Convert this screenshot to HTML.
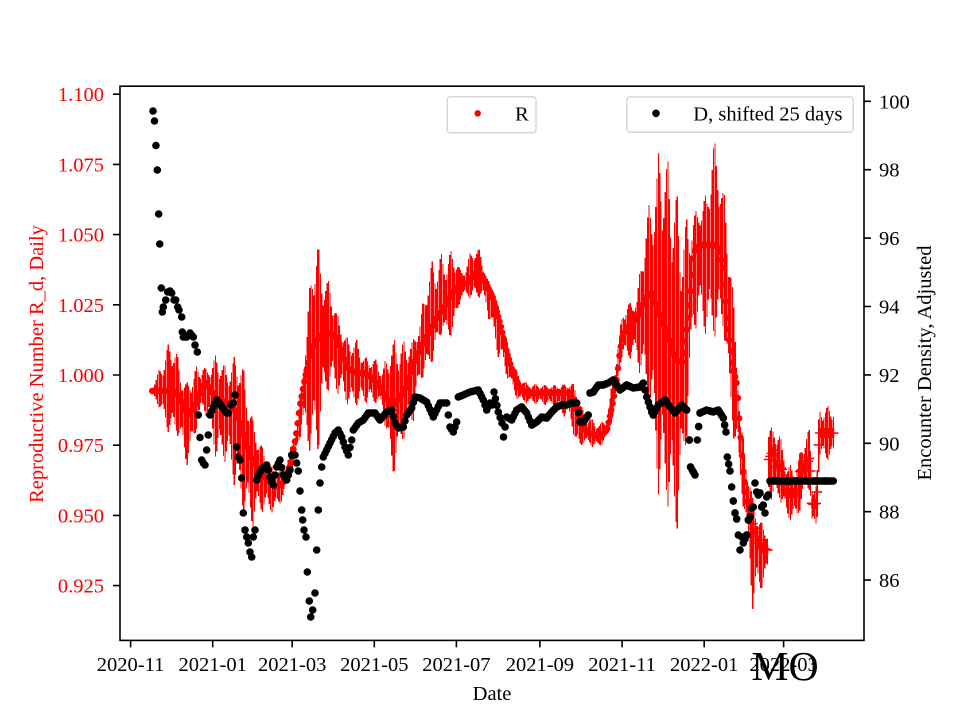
<!DOCTYPE html>
<html><head><meta charset="utf-8">
<style>
html,body{margin:0;padding:0;background:#fff;}
svg{display:block;}
text{font-family:"Liberation Serif","Times New Roman",serif;font-size:20.5px;}
</style></head><body>
<svg id="s" width="960" height="720" viewBox="0 0 960 720" xmlns="http://www.w3.org/2000/svg">
<rect width="960" height="720" fill="#fff"/>
<g id="red"><path id="rbars" stroke="#ff0000" stroke-width="1.2" fill="none" shape-rendering="crispEdges"/><path id="rdots" fill="#ff0000"/><path id="rplus" stroke="#ff0000" stroke-width="1.5" fill="none"/></g>
<g id="leg1">
<rect x="447.3" y="96.7" width="88.7" height="36" rx="3" ry="3" fill="#fff" fill-opacity="0.8" stroke="#d6d6d6" stroke-width="1.5"/>
<circle cx="477.7" cy="113.3" r="3.2" fill="#ff0000"/>
<text x="515" y="120.5">R</text>
</g>
<g id="blk"><path id="bdots" fill="#000"/></g>
<g id="leg2">
<rect x="626.7" y="97" width="226.6" height="35.3" rx="3" ry="3" fill="#fff" fill-opacity="0.8" stroke="#d6d6d6" stroke-width="1.5"/>
<circle cx="656" cy="113.3" r="3.8" fill="#000"/>
<text x="693.3" y="120.5">D, shifted 25 days</text>
</g>
<g id="axes" stroke="#000">
<rect x="120" y="86.2" width="744" height="554.2" fill="none" stroke-width="1.6"/>
<path stroke-width="1.6" d="M113 94.2H120M113 164.4H120M113 234.6H120M113 304.8H120M113 375H120M113 445.2H120M113 515.4H120M113 585.6H120
M864 101.3H871M864 169.7H871M864 238.1H871M864 306.5H871M864 374.9H871M864 443.3H871M864 511.7H871M864 580.1H871
M130.6 640.4V647.4M212.7 640.4V647.4M292.2 640.4V647.4M374.3 640.4V647.4M456.4 640.4V647.4M539.9 640.4V647.4M622.1 640.4V647.4M704.2 640.4V647.4M783.6 640.4V647.4"/>
</g>
<g fill="#ff0000" text-anchor="end">
<text x="104" y="101.2">1.100</text>
<text x="104" y="171.4">1.075</text>
<text x="104" y="241.6">1.050</text>
<text x="104" y="311.8">1.025</text>
<text x="104" y="382">1.000</text>
<text x="104" y="452.2">0.975</text>
<text x="104" y="522.4">0.950</text>
<text x="104" y="592.6">0.925</text>
</g>
<g fill="#000" text-anchor="start">
<text x="879" y="108.3">100</text>
<text x="879" y="176.7">98</text>
<text x="879" y="245.1">96</text>
<text x="879" y="313.5">94</text>
<text x="879" y="381.9">92</text>
<text x="879" y="450.3">90</text>
<text x="879" y="518.7">88</text>
<text x="879" y="587.1">86</text>
</g>
<g fill="#000" text-anchor="middle">
<text x="130.6" y="671">2020-11</text>
<text x="212.7" y="671">2021-01</text>
<text x="292.2" y="671">2021-03</text>
<text x="374.3" y="671">2021-05</text>
<text x="456.4" y="671">2021-07</text>
<text x="539.9" y="671">2021-09</text>
<text x="622.1" y="671">2021-11</text>
<text x="704.2" y="671">2022-01</text>
<text x="783.6" y="671">2022-03</text>
<text x="492" y="700">Date</text>
<text transform="translate(43,364) rotate(-90)" fill="#ff0000">Reproductive Number R_d, Daily</text>
<text transform="translate(931,363) rotate(-90)">Encounter Density, Adjusted</text>
<text x="785" y="680" style="font-size:41.7px">MO</text>
</g>
</svg>
<script>
(function(){
var X0=130.6, PX=1.3465;
var C=[[151.7,391],[160,391],[170,391],[176,392],[181,400],[188,415],[195,405],[200,392],[205,382],[210,388],[216,398],[225,402],[232,405],[238,418],[244,435],[250,455],[256,465],[262,474],[270,483],[277,487],[283,483],[288,472],[292,458],[296,435],[300,405],[305,378],[310,355],[315,343],[320,336],[330,333],[336,338],[342,352],[348,368],[356,373],[364,373],[372,378],[380,387],[388,400],[393,405],[400,397],[407,385],[413,365],[420,350],[426,338],[437,317],[447,303],[453,292],[460,285],[467,283],[475,273],[481,275],[487,285],[493,298],[500,323],[507,353],[513,373],[520,388],[527,393],[570,393],[575,405],[580,420],[587,432],[600,437],[607,430],[613,402],[617,378],[620,350],[623,335],[630,325],[637,318],[645,298],[652,293],[660,315],[667,333],[675,360],[683,362],[687,327],[690,300],[694,252],[700,245],[715,245],[720,250],[723,267],[727,317],[733,367],[737,385],[740,430],[743,470],[747,500],[753,525],[757,538],[762,548],[767.6,550],[768.6,460],[773,450],[777,467],[780,467],[783,470],[786,493],[797,493],[800,470],[803,470],[807,463],[810,457],[812,505],[817,503],[819,433],[834,433]];
var E=[[151.7,388,393],[160,367,410],[167,347,430],[172,337,437],[177,353,433],[182,380,455],[187,383,465],[190,375,460],[197,366,427],[203,365,410],[207,370,418],[210,365,423],[217,353,466],[222,360,458],[227,370,465],[233,360,480],[238,348,500],[243,367,513],[247,387,520],[253,420,527],[260,440,513],[267,460,510],[273,468,513],[280,468,505],[287,460,487],[293,440,470],[297,427,450],[302,380,430],[307,327,443],[313,240,460],[318,243,457],[323,273,403],[330,283,387],[337,313,393],[343,333,400],[350,340,407],[357,340,405],[363,357,403],[377,360,403],[383,370,410],[390,340,463],[393,340,477],[400,340,450],[407,343,430],[413,340,423],[420,320,383],[424,296,375],[427,270,373],[433,260,360],[437,257,345],[443,253,330],[447,253,340],[453,250,335],[457,257,320],[460,270,300],[463,270,297],[467,262,297],[473,245,300],[480,250,297],[487,277,310],[493,290,340],[500,313,363],[507,340,377],[513,363,393],[520,377,403],[527,383,403],[547,385,405],[560,385,410],[573,383,430],[577,390,460],[583,410,443],[593,420,447],[600,423,447],[607,417,437],[613,377,417],[620,330,363],[623,307,360],[627,303,357],[633,303,360],[637,297,360],[643,243,390],[647,215,400],[650,200,420],[653,190,450],[657,170,480],[661,123,521],[667,160,500],[673,170,547],[680,213,517],[687,220,433],[693,215,333],[697,210,327],[707,193,335],[713,140,338],[717,147,335],[723,187,330],[727,210,360],[730,233,400],[735,330,450],[740,420,483],[747,460,533],[753,500,613],[757,515,600],[760,520,593],[767.6,530,575],[768.6,430,495],[775,425,505],[780,435,500],[787,465,520],[797,465,520],[803,440,500],[807,430,490],[810,430,490],[812,485,530],[817,480,530],[819,407,460],[834,405,460]];
var B=[[153,111],[154.5,121],[157.3,170],[158.7,214],[159.7,244],[161.3,288],[162.3,312],[163.3,307],[165.7,300],[167.7,292],[170,291],[171.7,293],[174,300],[175.7,300],[177.7,307],[179,310],[181.7,317],[182.3,332],[183.3,337],[186.7,337],[190,333],[191.7,335],[193.3,337],[195,345],[197.3,352],[198.3,415],[201.7,460],[203.3,463],[205,465],[208.3,435],[210,415],[213.3,407],[216.7,400],[220,404],[223,408],[226.7,413],[228.3,413],[231,405],[233.3,403],[235,395],[236.7,447],[238.3,457],[240,460],[241.7,478],[243.3,513],[245,530],[246.7,537],[248.3,543],[250,552],[251.7,557],[253.3,537],[255,530],[256.7,480],[258,476],[260,472],[263.3,468],[266.7,465],[268.3,470],[270,477],[273.3,485],[275,475],[276.7,467],[280,460],[283.3,475],[286.7,480],[290,470],[291.7,455],[295,455],[298.3,471],[300,491],[301.7,510],[302.7,520],[304,530],[306,537],[307.3,572],[309.3,601],[310.7,617],[312.7,610],[315,593],[316.7,550],[318.3,510],[320,483],[321.7,467],[323.3,457],[326.7,450],[330,443],[335,433],[338.3,430],[341.7,437],[345,447],[348.3,455],[351.7,440],[353.3,430],[358.3,423],[363.3,420],[368.3,413],[375,413],[380,420],[386.7,412],[391.7,410],[395,423],[398.3,428],[403.3,427],[406.7,415],[411.7,408],[415,397],[420,398],[426.7,402],[433.3,417],[440,403],[446.7,403],[450,427],[453.3,432],[456.7,422],[458.3,397],[463.3,395],[470,392],[478.3,390],[483.3,400],[486.7,410],[490,403],[492,405],[494,392],[498.3,412],[502,423],[503.5,437],[506.7,417],[511.7,420],[516.7,410],[521.7,407],[526.7,413],[531.7,425],[536.7,422],[541.7,417],[546.7,418],[551.7,412],[556.7,407],[561.7,405],[566.7,405],[571.7,403],[576.7,403],[580,422],[583.3,422],[588.3,415],[590,393],[593.3,392],[598.3,385],[603.3,385],[608.3,383],[613.3,380],[620,390],[626.7,385],[633.3,388],[640,387],[643.3,383],[646.7,397],[651.7,412],[653.3,415],[658.3,405],[665,400],[670,407],[675,413],[681.7,405],[686.7,410],[689.3,440],[690.5,467],[695,475],[697.3,440],[700,413],[706.7,410],[713.3,412],[718.3,410],[723.3,418],[726,432],[727.3,457],[730,471],[731.7,487],[733.3,501],[735,513],[736.7,519],[738.3,535],[740,550],[741.7,537],[743.3,543],[746.7,535],[748.3,520],[750,517],[751.7,508],[753.3,507],[755,483],[756.7,492],[758.3,495],[760,493],[761.7,507],[763.3,505],[765,513],[766.7,497],[768.3,495],[770,481],[833.3,481]];
function interp(p,x){
  if(x<=p[0][0]) return p[0].slice(1);
  for(var i=1;i<p.length;i++){
    if(x<=p[i][0]){var a=p[i-1],b=p[i],t=(x-a[0])/(b[0]-a[0]);var r=[];for(var k=1;k<a.length;k++){r.push(a[k]+(b[k]-a[k])*t);}return r;}
  }
  return p[p.length-1].slice(1);
}
function circ(x,y,r){return 'M'+(x-r).toFixed(2)+' '+y.toFixed(2)+'a'+r+' '+r+' 0 1 0 '+(2*r)+' 0a'+r+' '+r+' 0 1 0 '+(-2*r)+' 0';}
var pat=[1,0.8,0.6,0.48,0.58,0.76,0.93];
var bars='',dots='',plus='';
for(var d=16;d<=522;d++){
  var x=X0+PX*d; if(x>834) break;
  var c=interp(C,x)[0], e=interp(E,x);
  var up=Math.max(2,c-e[0]), dn=Math.max(2,e[1]-c), f=pat[d%7];
  bars+='M'+x.toFixed(2)+' '+(c-up*f).toFixed(2)+'V'+(c+dn*f).toFixed(2);
  if(x<752){dots+=circ(x,c,3.2);}
  else{plus+='M'+(x-5).toFixed(2)+' '+c.toFixed(2)+'h10M'+x.toFixed(2)+' '+(c-5).toFixed(2)+'v10';}
}
document.getElementById('rbars').setAttribute('d',bars);
document.getElementById('rdots').setAttribute('d',dots);
document.getElementById('rplus').setAttribute('d',plus);
var bd='';
for(var i=0;i<B.length;i++){
  if(i>0){var a=B[i-1],b=B[i],dx=b[0]-a[0],n=Math.floor(dx/1.35);
    for(var k=1;k<n;k++){var t=k/n;bd+=circ(a[0]+dx*t,a[1]+(b[1]-a[1])*t,3.8);}}
  bd+=circ(B[i][0],B[i][1],3.8);
}
document.getElementById('bdots').setAttribute('d',bd);
})();
</script>
</body></html>
